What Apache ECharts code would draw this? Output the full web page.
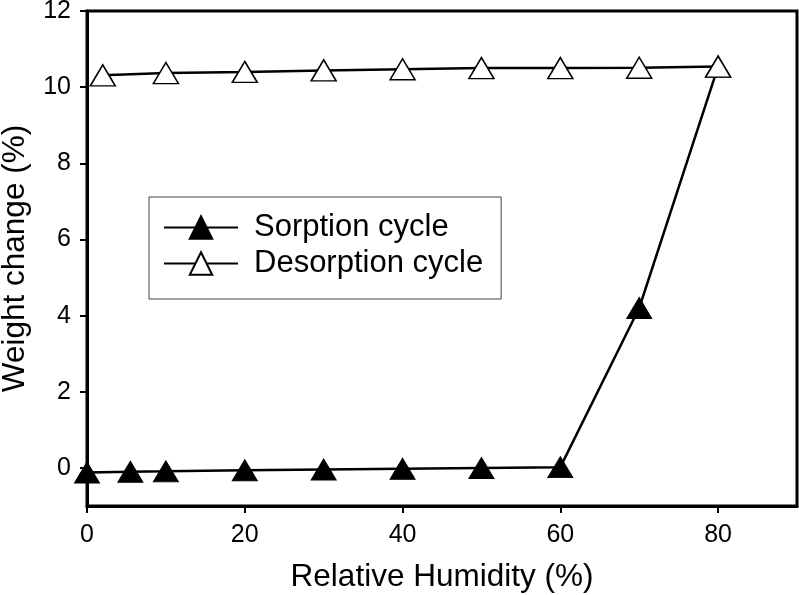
<!DOCTYPE html>
<html>
<head>
<meta charset="utf-8">
<script src="https://cdn.jsdelivr.net/npm/echarts@6/dist/echarts.min.js"></script>
<style>
html,body{margin:0;padding:0;background:#fff;}
#chart{width:799px;height:595px;}
</style>
</head>
<body>
<div id="chart"></div>
<script>
const sorptionX = [0, 5.5, 10, 20, 30, 40, 50, 60, 70, 80];
const sorptionY = [-0.12, -0.1, -0.09, -0.06, -0.04, -0.02, 0.0, 0.02, 4.2, 10.54];
const desorptionX = [2, 10, 20, 30, 40, 50, 60, 70, 80];
const desorptionY = [10.31, 10.37, 10.4, 10.44, 10.47, 10.5, 10.5, 10.51, 10.54];
const xTicks = [0, 20, 40, 60, 80];
const yTicks = [0, 2, 4, 6, 8, 10, 12];

const font = '"Liberation Sans", Arial, sans-serif';
const chart = echarts.init(document.getElementById('chart'), null, {renderer: 'canvas'});
chart.setOption({
  animation: false,
  backgroundColor: '#fff',
  grid: {left: 87, right: 2, top: 11, bottom: 89, containLabel: false, outerBoundsMode: 'none',
         show: true, borderColor: '#000', borderWidth: 3, backgroundColor: 'transparent'},
  legend: {
    orient: 'vertical', left: 149, top: 197,
    padding: [15, 18, 20, 14],
    itemWidth: 74, itemHeight: 28, itemGap: 5,
    borderColor: '#444', borderWidth: 1,
    textStyle: {fontFamily: font, fontSize: 31, color: '#000', padding: [0, 0, 0, 11]},
    data: ['Sorption cycle', 'Desorption cycle']
  },
  xAxis: {
    type: 'value', min: 0, max: 90,
    name: 'Relative Humidity (%)', nameLocation: 'middle', nameGap: 55,
    nameTextStyle: {fontFamily: font, fontSize: 31.5, color: '#000'},
    axisLine: {show: true, onZero: false, lineStyle: {color: '#000', width: 3}},
    axisTick: {show: true, length: 7, lineStyle: {color: '#000', width: 2}, customValues: xTicks},
    axisLabel: {fontFamily: font, fontSize: 25, color: '#000', margin: 17, customValues: xTicks},
    splitLine: {show: false}
  },
  yAxis: {
    type: 'value', min: -1, max: 12,
    name: 'Weight change (%)', nameLocation: 'middle', nameGap: 56,
    nameTextStyle: {fontFamily: font, fontSize: 31.5, color: '#000'},
    axisLine: {show: true, onZero: false, lineStyle: {color: '#000', width: 3}},
    axisTick: {show: true, length: 7, lineStyle: {color: '#000', width: 2}, customValues: yTicks},
    axisLabel: {fontFamily: font, fontSize: 25, color: '#000', margin: 16, customValues: yTicks},
    splitLine: {show: false}
  },
  series: [
    {
      name: 'Sorption cycle', type: 'line',
      data: sorptionX.map((x, i) => [x, sorptionY[i]]),
      symbol: 'triangle', symbolSize: [25, 21],
      lineStyle: {color: '#000', width: 2.5},
      itemStyle: {color: '#000', borderColor: '#000', borderWidth: 1},
      z: 2
    },
    {
      name: 'Desorption cycle', type: 'line',
      data: desorptionX.map((x, i) => [x, desorptionY[i]]),
      symbol: 'triangle', symbolSize: [25, 21],
      lineStyle: {color: '#000', width: 2.5},
      itemStyle: {color: '#fff', borderColor: '#000', borderWidth: 1.5},
      z: 3
    }
  ]
});
</script>
</body>
</html>
